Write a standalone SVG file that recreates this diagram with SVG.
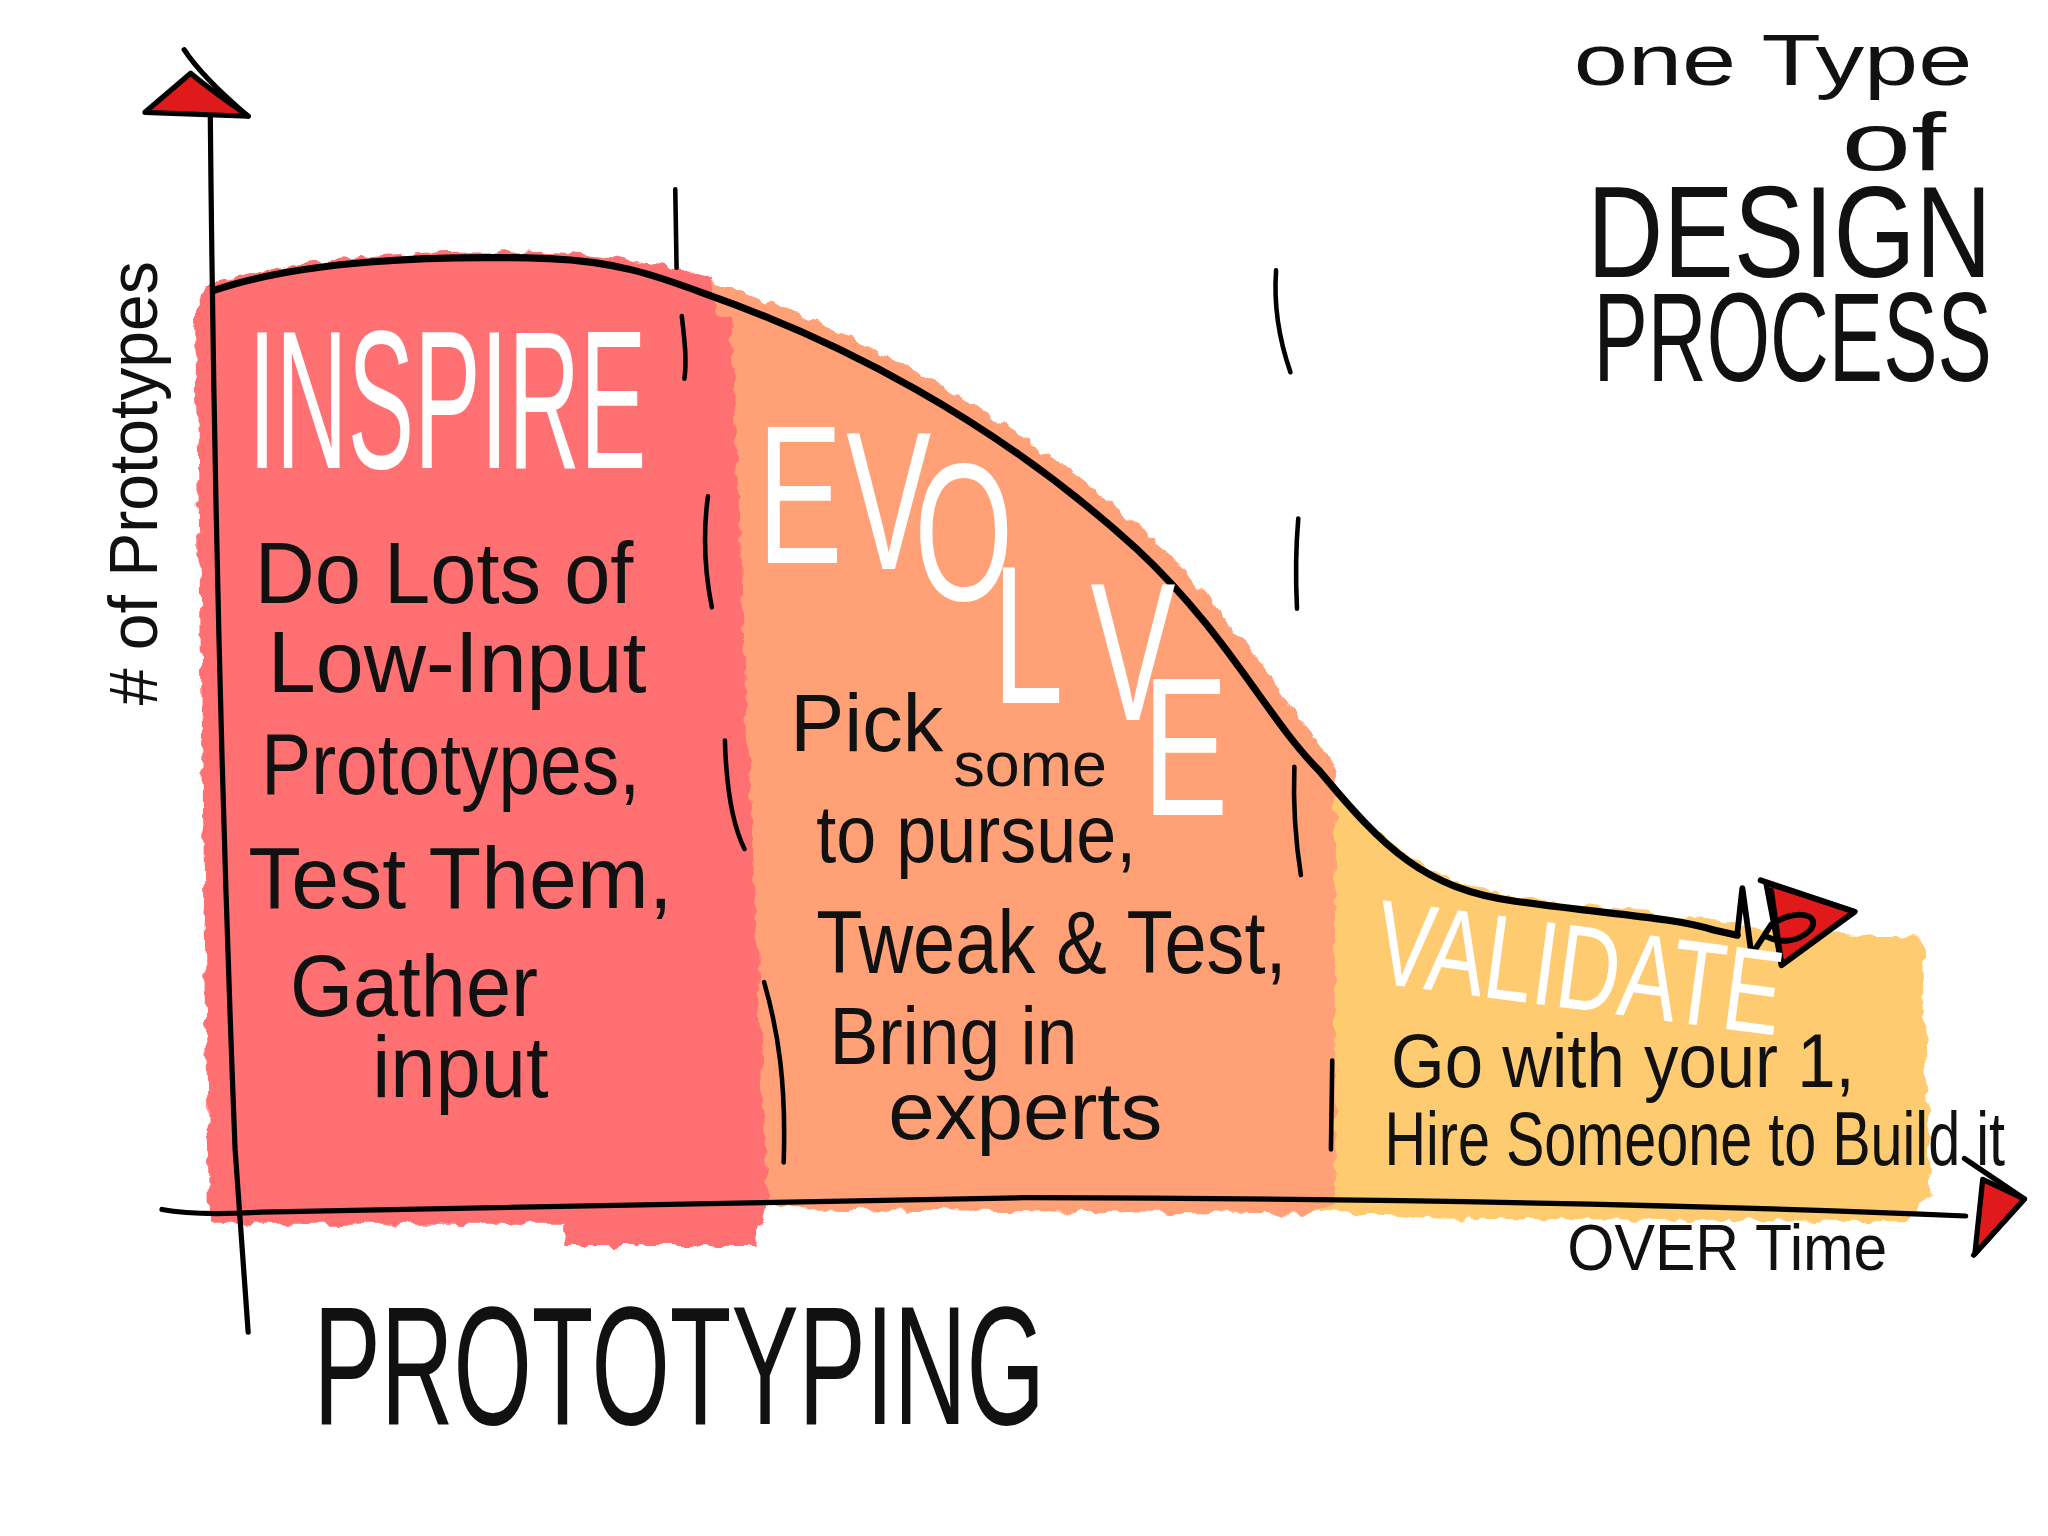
<svg xmlns="http://www.w3.org/2000/svg" width="2048" height="1536" viewBox="0 0 2048 1536">
<defs>
<style>
.hand{font-family:"Liberation Sans Narrow","Liberation Sans","DejaVu Sans",sans-serif;}
.ink{fill:#111;}
.chalk{fill:#fff;}
.ln{fill:none;stroke:#000;stroke-linecap:round;stroke-linejoin:round;}
.red{fill:#FF6F73;}
.orange{fill:#FFA077;}
.yellow{fill:#FECB70;}
.arrow{fill:#E01A1A;stroke:#000;stroke-width:4;stroke-linejoin:round;}
</style>
<filter id="rough" x="-5%" y="-5%" width="110%" height="110%">
<feTurbulence type="fractalNoise" baseFrequency="0.09" numOctaves="2" seed="3" result="n"/>
<feDisplacementMap in="SourceGraphic" in2="n" scale="9" xChannelSelector="R" yChannelSelector="G"/>
</filter>
</defs>
<rect width="2048" height="1536" fill="#fff"/>
<g transform="scale(1.306122)">
<g id="regions" filter="url(#rough)">
<path class="yellow" d="M998,575 C1050,640 1090,676 1160,686 C1230,696 1290,701 1340,710 L1472,718 L1478,915 L1460,935 L1100,933 L1010,927 Z"/>
<path class="orange" d="M540,232 L542,214 C640,247 762,307 873,404 C938,462 978,527 1010,570 L1022,585 L1022,922 L1000,930 L600,925 L568,920 Z"/>
<path class="red" d="M150,238 L158,218 C230,196 330,190 420,193 C470,195 510,203 545,213 L549,240 L560,245 L574,600 L588,915 L582,937 L160,937 Z"/>
<rect class="red" x="432" y="922" width="148" height="32"/>
</g>
<g id="dividers" class="ln" stroke-width="3.5">
<path d="M517,145 L518,205"/>
<path d="M522,242 C524,260 526,275 524,290"/>
<path d="M542,380 C538,410 540,440 545,465"/>
<path d="M555,567 C556,600 560,630 570,650"/>
<path d="M585,752 C596,790 602,830 600,890"/>
<path d="M977,207 C975,235 980,262 988,285"/>
<path d="M994,397 C992,420 992,445 993,466"/>
<path d="M991,587 C990,615 992,645 996,670"/>
<path d="M1020,812 L1019,880"/>
</g>
<g id="axes">
<path class="ln" stroke-width="4" d="M161,88 C163,300 169,600 180,880 L190,1020"/>
<path class="arrow" d="M111,86 L146,56 C160,68 175,78 190,89 Z"/>
<path class="ln" stroke-width="4" d="M141,38 C152,55 170,72 190,89"/>
<path class="ln" stroke-width="4" d="M124,926 Q150,931 200,928 L784,917 Q1200,918 1505,931"/>
<path class="arrow" d="M1518,903 L1550,918 L1512,960 Z"/>
<path class="ln" stroke-width="4" d="M1504,887 L1550,918 L1511,961"/>
</g>
<g id="curve">
<path class="ln" stroke-width="5.5" d="M165,222 C230,200 330,195 420,198 C470,200 500,210 540,225 C640,260 760,320 870,420 C940,485 970,550 1010,590 C1060,650 1090,680 1160,690 C1230,700 1280,702 1312,712 L1330,716"/>
<path class="arrow" stroke="none" d="M1352,676 L1420,698 L1364,739 Z"/>
<path class="ln" stroke-width="4.5" d="M1348,674 L1420,698 L1364,739 L1356,682 M1330,716 L1334,680 L1341,731 L1356,708 C1375,695 1395,700 1386,712 C1376,722 1362,722 1352,717"/>
</g>
<g id="title" class="hand ink">
<text x="1205" y="65" font-size="56" textLength="305" lengthAdjust="spacingAndGlyphs">one Type</text>
<text x="1410" y="130" font-size="62" textLength="80" lengthAdjust="spacingAndGlyphs">of</text>
<text x="1215" y="212" font-size="100" textLength="310" lengthAdjust="spacingAndGlyphs">DESIGN</text>
<text x="1220" y="292" font-size="96" textLength="305" lengthAdjust="spacingAndGlyphs">PROCESS</text>
</g>
<g id="y-label" class="hand ink">
<text transform="translate(120,540) rotate(-90)" font-size="52" textLength="340" lengthAdjust="spacingAndGlyphs"># of Prototypes</text>
</g>
<g id="inspire" class="hand">
<text class="chalk" x="190" y="358" font-size="150" textLength="305" lengthAdjust="spacingAndGlyphs">INSPIRE</text>
<g class="ink" font-size="66">
<text x="195" y="462" textLength="290" lengthAdjust="spacingAndGlyphs">Do Lots of</text>
<text x="205" y="530" textLength="290" lengthAdjust="spacingAndGlyphs">Low-Input</text>
<text x="200" y="608" textLength="290" lengthAdjust="spacingAndGlyphs">Prototypes,</text>
<text x="190" y="695" textLength="325" lengthAdjust="spacingAndGlyphs">Test Them,</text>
<text x="222" y="778" textLength="190" lengthAdjust="spacingAndGlyphs">Gather</text>
<text x="285" y="840" textLength="135" lengthAdjust="spacingAndGlyphs">input</text>
</g>
</g>
<g id="evolve" class="hand">
<text class="chalk" transform="scale(0.65,1)" font-size="150" x="892.3 996.9 1076.9 1169.2 1284.6 1346.2" y="431 436 459 538 551 624">EVOLVE</text>
<g class="ink" font-size="62">
<text x="605" y="575">Pick<tspan x="730" y="602" font-size="48">some</tspan></text>
<text x="625" y="660" textLength="245" lengthAdjust="spacingAndGlyphs">to pursue,</text>
<text x="625" y="745" font-size="68" textLength="360" lengthAdjust="spacingAndGlyphs">Tweak &amp; Test,</text>
<text x="635" y="815" textLength="190" lengthAdjust="spacingAndGlyphs">Bring in</text>
<text x="680" y="872" textLength="210" lengthAdjust="spacingAndGlyphs">experts</text>
</g>
</g>
<g id="validate" class="hand">
<text class="chalk" transform="rotate(7.5 1050 752)" x="1050" y="752" font-size="92" textLength="313" lengthAdjust="spacingAndGlyphs">VALIDATE</text>
<g class="ink" font-size="58">
<text x="1065" y="832" textLength="355" lengthAdjust="spacingAndGlyphs">Go with your 1,</text>
<text x="1060" y="892" textLength="475" lengthAdjust="spacingAndGlyphs">Hire Someone to Build it</text>
</g>
</g>
<g id="x-label" class="hand ink">
<text x="1200" y="972" font-size="50" textLength="245" lengthAdjust="spacingAndGlyphs">OVER Time</text>
</g>
<g id="prototyping" class="hand ink">
<text x="240" y="1090" font-size="130" textLength="560" lengthAdjust="spacingAndGlyphs">PROTOTYPING</text>
</g>
</g>
</svg>
